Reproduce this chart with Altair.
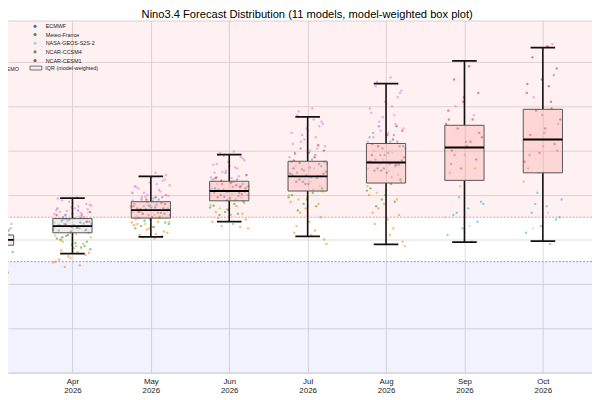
import altair as alt
import pandas as pd

# ---------------- data ----------------
MONTHS = ["Mar", "Apr", "May", "Jun", "Jul", "Aug", "Sep", "Oct"]
YEAR = "2026"

WHISK_LO = [-0.50, -0.32, 0.06, 0.40, 0.07, -0.11, -0.06, -0.04]
Q1 = [-0.13, 0.15, 0.48, 0.87, 1.09, 1.27, 1.33, 1.50]
MEDIAN = [-0.01, 0.30, 0.66, 1.09, 1.42, 1.73, 2.07, 2.25]
Q3 = [0.10, 0.47, 0.85, 1.31, 1.76, 2.16, 2.57, 2.93]
WHISK_HI = [0.48, 0.93, 1.42, 1.91, 2.76, 3.51, 4.02, 4.32]

EL_NINO = 0.5
LA_NINA = -0.5
Y_DOMAIN = [-3.0, 4.93]
X_DOMAIN = [0.178, 7.627]

MODEL_NAMES = ["BOM-ACCESS", "CFSv2", "CMCC-SPS3.5", "DWD-GCFS2.1", "COLA-RSMAS",
               "CMC-GEM5.2-NEMO", "ECMWF", "Meteo-France", "NASA-GEOS-S2S-2",
               "NCAR-CCSM4", "NCAR-CESM1"]
MODEL_CODES = ["o", "p", "r", "u", "c", "y", "b", "g", "l", "k", "n"]
MODEL_COLORS = ["#ff7f0e", "#e377c2", "#d62728", "#9467bd", "#17becf", "#bcbd22",
                "#1f77b4", "#2ca02c", "#aec7e8", "#7f7f7f", "#8c564b"]

MAR_PTS = {
    "o": [-0.62, -0.70, -0.75, -0.82, -0.88, -0.55, -0.66],
    "p": [0.35, 0.42, 0.28, 0.50, 0.22, 0.18, 0.31, 0.45],
    "l": [0.12, 0.05, 0.20, 0.08],
    "g": [-0.20, -0.28, -0.15, -0.32],
    "b": [0.02, -0.05, 0.10, -0.08],
    "c": [0.15, 0.25], "u": [0.30, 0.10], "y": [-0.12, -0.22],
    "k": [0.00, 0.06], "n": [-0.10], "r": [0.20, -0.02],
}
APR_PTS = {
    "p": [0.95, 0.88, 0.80, 0.72, 0.66, 0.60, 0.55, 0.78, 0.70, 0.62, 0.50, 0.85, 0.58, 0.74,
          0.45, 0.68, 0.82, 0.92, 0.57, 0.64, 0.76],
    "o": [-0.15, -0.25, -0.35, -0.42, -0.50, -0.58, -0.62, -0.30, -0.20, -0.45, -0.10,
          -0.38, -0.52, -0.28, -0.05],
    "g": [-0.05, -0.12, 0.02, -0.18, 0.08, -0.22, -0.08, 0.00, -0.15],
    "l": [0.45, 0.38, 0.52, 0.30, 0.60, 0.25, 0.33, 0.48, 0.41],
    "b": [0.35, 0.28, 0.42, 0.22, 0.18, 0.30, 0.38],
    "c": [0.55, 0.40, 0.48, 0.32, 0.36, 0.44, 0.27],
    "u": [0.65, 0.50, 0.40, 0.58, 0.70, 0.54, 0.46],
    "y": [0.05, 0.12, -0.02, 0.20, 0.15, 0.09],
    "k": [0.25, 0.35, 0.15, 0.32, 0.20],
    "n": [0.30, 0.10, 0.22, 0.26, 0.05],
    "r": [0.40, 0.28, 0.55, 0.48, 0.34, 0.62],
}
MAY_PTS = {
    "p": [1.50, 1.42, 1.35, 1.28, 1.20, 1.12, 1.05, 0.98, 0.92, 1.15, 1.32, 1.00, 0.88, 1.25,
          0.95, 1.45, 1.38, 1.18, 1.08, 0.96, 1.22],
    "o": [0.02, 0.10, 0.18, 0.25, 0.32, 0.40, 0.05, 0.15, 0.28, 0.35, 0.08, 0.22, 0.38, 0.12],
    "g": [0.30, 0.38, 0.45, 0.25, 0.50, 0.42, 0.35, 0.28, 0.48],
    "l": [0.70, 0.78, 0.62, 0.85, 0.58, 0.66, 0.74, 0.52],
    "b": [0.60, 0.68, 0.55, 0.72, 0.65, 0.58, 0.76],
    "c": [0.80, 0.90, 0.75, 0.70, 0.86, 0.62],
    "u": [0.95, 0.85, 1.05, 0.78, 0.90, 1.00, 0.72],
    "y": [0.45, 0.52, 0.35, 0.40, 0.55],
    "k": [0.62, 0.70, 0.55, 0.75, 0.60],
    "n": [0.58, 0.66, 0.50, 0.70],
    "r": [0.82, 0.90, 0.74, 0.95, 0.68, 0.80],
}
JUN_PTS = {
    "p": [1.98, 1.90, 1.82, 1.75, 1.68, 1.60, 1.52, 1.45, 1.38, 1.70, 1.85, 1.55, 1.40, 1.62,
          1.95, 1.78, 1.65, 1.50, 1.42, 1.88],
    "o": [0.25, 0.35, 0.48, 0.58, 0.68, 0.40, 0.75, 0.30, 0.45, 0.55, 0.62, 0.28],
    "g": [0.62, 0.72, 0.80, 0.55, 0.85, 0.66, 0.76, 0.58],
    "l": [1.10, 1.18, 1.02, 1.25, 0.95, 1.05, 1.15, 0.90],
    "b": [1.00, 1.08, 0.92, 1.15, 1.05, 0.96],
    "c": [1.20, 1.30, 1.12, 1.25, 1.08, 1.35],
    "u": [1.35, 1.25, 1.45, 1.28, 1.40, 1.20, 1.50],
    "y": [0.78, 0.88, 0.70, 0.82, 0.92],
    "k": [1.05, 0.98, 1.12, 1.00, 1.18],
    "n": [0.95, 1.02, 0.88, 1.10],
    "r": [1.22, 1.32, 1.15, 1.28, 1.38, 1.18],
}
JUL_PTS = {
    "p": [2.95, 2.80, 2.65, 2.50, 2.40, 2.30, 2.20, 2.10, 2.00, 1.92, 2.55, 2.25, 1.85, 2.70,
          2.88, 2.60, 2.45, 2.15, 2.05, 2.35],
    "o": [-0.10, 0.10, 0.30, 0.50, 0.70, 0.85, 0.20, 0.60, 0.00, 0.40, 0.15, 0.80],
    "g": [0.80, 0.95, 1.05, 0.65, 1.15, 0.90, 1.00, 0.75],
    "l": [1.40, 1.55, 1.30, 1.65, 1.20, 1.35, 1.50, 1.60],
    "b": [1.35, 1.48, 1.25, 1.60, 1.42, 1.30],
    "c": [1.70, 1.80, 1.50, 1.65, 1.45, 1.75],
    "u": [1.90, 2.05, 1.75, 1.62, 1.95, 1.70, 1.55],
    "y": [1.00, 1.12, 0.90, 1.08, 0.95],
    "k": [1.45, 1.38, 1.58, 1.52, 1.40],
    "n": [1.30, 1.42, 1.25, 1.48],
    "r": [1.85, 1.72, 2.00, 1.95, 1.78, 2.12],
}
AUG_PTS = {
    "p": [3.65, 3.45, 3.30, 3.10, 2.95, 2.80, 2.65, 2.50, 2.40, 2.30, 3.20, 2.75, 2.20, 3.00,
          3.55, 3.35, 3.05, 2.85, 2.60, 2.45],
    "o": [-0.15, 0.10, 0.35, 0.55, 0.80, 1.00, 0.25, 0.70, -0.05, 0.45, 0.60, 0.90],
    "g": [0.90, 1.10, 1.25, 0.75, 1.35, 1.00, 1.15, 0.85],
    "l": [1.70, 1.85, 1.55, 2.00, 1.45, 1.80, 1.60, 1.95],
    "b": [1.60, 1.78, 1.50, 1.90, 1.68, 1.55],
    "c": [2.05, 2.20, 1.80, 2.10, 1.90, 2.30],
    "u": [2.35, 2.55, 2.10, 1.95, 2.40, 2.20, 2.05],
    "y": [1.20, 1.40, 1.05, 1.30, 1.10],
    "k": [1.75, 1.65, 1.90, 1.85, 1.70],
    "n": [1.55, 1.68, 1.60, 1.75],
    "r": [2.25, 2.10, 2.45, 2.35, 2.15, 2.55],
}
SEP_PTS = {
    "r": [3.90, 3.60, 3.30, 3.10, 2.90, 2.70, 2.50, 2.30, 2.10, 2.00, 1.80, 1.60, 2.60, 2.20],
    "p": [3.00, 2.40, 1.90, 1.50, 2.80],
    "c": [0.95, 0.80, 0.70, 0.55, 0.40, 0.25, 0.10, -0.05, 0.60, 0.85],
    "u": [2.20, 1.70], "y": [1.60, 1.20], "l": [0.50, 0.30],
    "k": [1.90, 2.40], "n": [3.20, 2.70],
}
OCT_PTS = {
    "r": [4.35, 4.10, 3.85, 3.60, 3.30, 3.10, 2.90, 2.70, 2.50, 2.35, 2.15, 1.95, 1.75, 3.45],
    "p": [3.20, 2.60, 2.10, 1.60, 4.40],
    "c": [1.05, 0.90, 0.75, 0.60, 0.45, 0.30, 0.15, -0.10, 0.80, 0.50],
    "u": [2.40, 1.90, 3.70], "y": [1.50, 1.30], "l": [0.60, 0.25],
    "k": [2.00, 2.80], "n": [3.50, 2.95],
}
MONTH_POINTS = [MAR_PTS, APR_PTS, MAY_PTS, JUN_PTS, JUL_PTS, AUG_PTS, SEP_PTS, OCT_PTS]

TITLE = "Nino3.4 Forecast Distribution (11 models, model-weighted box plot)"
IQR_LABEL = "IQR (model-weighted)"
FONT = "Liberation Sans"

# ---------------- tables ----------------
code_to_name = dict(zip(MODEL_CODES, MODEL_NAMES))
rows = []
for mi, pts in enumerate(MONTH_POINTS):
    k = 0
    for code, vals in pts.items():
        for v in vals:
            k += 1
            rows.append({"mi": mi, "model": code_to_name[code], "value": v, "k": k})
points = pd.DataFrame(rows)

boxes = pd.DataFrame({
    "mi": list(range(len(MONTHS))),
    "lo": WHISK_LO, "q1": Q1, "med": MEDIAN, "q3": Q3, "hi": WHISK_HI,
})
boxes["state"] = ["warm" if m > EL_NINO else "neutral" for m in MEDIAN]
boxes["iqr"] = IQR_LABEL

warm_band = pd.DataFrame({"y": [EL_NINO], "y2": [Y_DOMAIN[1]]})
cold_band = pd.DataFrame({"y": [Y_DOMAIN[0]], "y2": [LA_NINA]})
warm_line = pd.DataFrame({"y": [EL_NINO]})
cold_line = pd.DataFrame({"y": [LA_NINA]})
title_df = pd.DataFrame({"t": [TITLE]})

# ---------------- scales / axes ----------------
X_SCALE = alt.Scale(domain=X_DOMAIN, nice=False, zero=False)
Y_SCALE = alt.Scale(domain=Y_DOMAIN, nice=False, zero=False)

month_arr = "[" + ",".join("'%s'" % m for m in MONTHS) + "]"
X_AXIS = alt.Axis(
    values=list(range(1, len(MONTHS))), title=None, grid=True,
    gridColor="#d4d4d4", gridWidth=0.8, ticks=False,
    domain=True, domainColor="#cfcfcf", domainWidth=1,
    labelExpr="[%s[datum.value], '%s']" % (month_arr, YEAR),
    labelFont=FONT, labelFontSize=8, labelColor="#222222",
    labelPadding=4.5, labelLineHeight=9.5, labelOverlap=False, labelFlush=False,
)
Y_AXIS = alt.Axis(
    values=list(range(-3, 5)) + [Y_DOMAIN[1]], title=None, grid=True,
    gridColor="#d4d4d4", gridWidth=0.8, labels=False, ticks=False, domain=False,
)

# ---------------- layers ----------------
warm_band_layer = alt.Chart(warm_band).mark_rect(color="#ff0000", opacity=0.055).encode(
    y=alt.Y("y:Q", scale=Y_SCALE, axis=Y_AXIS), y2="y2:Q")
cold_band_layer = alt.Chart(cold_band).mark_rect(color="#0000ff", opacity=0.05).encode(
    y=alt.Y("y:Q", scale=Y_SCALE, axis=Y_AXIS), y2="y2:Q")
warm_line_layer = alt.Chart(warm_line).mark_rule(
    color="#ff8f8f", strokeDash=[2, 1.5], strokeWidth=1).encode(
    y=alt.Y("y:Q", scale=Y_SCALE, axis=Y_AXIS))
cold_line_layer = alt.Chart(cold_line).mark_rule(
    color="#8f8fff", strokeDash=[2, 1.5], strokeWidth=1).encode(
    y=alt.Y("y:Q", scale=Y_SCALE, axis=Y_AXIS))

pts_layer = alt.Chart(points).transform_calculate(
    xj="datum.mi + ((datum.k * 0.6180339887) % 1 - 0.5) * 0.5"
).mark_circle(size=6, opacity=0.55, clip=True).encode(
    x=alt.X("xj:Q", scale=X_SCALE, axis=X_AXIS),
    y=alt.Y("value:Q", scale=Y_SCALE, axis=Y_AXIS),
    color=alt.Color("model:N", scale=alt.Scale(domain=MODEL_NAMES, range=MODEL_COLORS),
                    legend=alt.Legend(
                        orient="none", legendX=-55.1, legendY=2.7, columns=2, title=None,
                        symbolType="circle", symbolSize=10, symbolOpacity=1,
                        symbolStrokeWidth=0, labelFont=FONT, labelFontSize=5.5,
                        labelColor="#222222", rowPadding=1.8, columnPadding=12.8,
                        labelOffset=8, padding=0, labelLimit=0)),
)

box_base = alt.Chart(boxes).transform_calculate(
    xa="datum.mi - 0.25", xb="datum.mi + 0.25",
    ca="datum.mi - 0.157", cb="datum.mi + 0.157",
)

box_layer = box_base.mark_rect(strokeWidth=1, clip=True).encode(
    x=alt.X("xa:Q", scale=X_SCALE, axis=X_AXIS), x2="xb:Q",
    y=alt.Y("q1:Q", scale=Y_SCALE, axis=Y_AXIS), y2="q3:Q",
    fill=alt.Fill("state:N", scale=alt.Scale(domain=["neutral", "warm"],
                                             range=["#c4c4c4", "#ff9999"]), legend=None),
    fillOpacity=alt.value(0.3),
    stroke=alt.Stroke("iqr:N", scale=alt.Scale(range=["#555555"]),
                      legend=alt.Legend(
                          orient="none", legendX=21.8, legendY=41.7, title=None,
                          symbolType="M-1,-0.33L1,-0.33L1,0.33L-1,0.33Z", symbolSize=144,
                          symbolFillColor="#f0f0f0", symbolStrokeWidth=0.8,
                          labelFont=FONT, labelFontSize=5.5, labelColor="#222222",
                          labelOffset=3, padding=0)),
)

RULE = "#111111"
whisk_lo = box_base.mark_rule(color=RULE, strokeWidth=1.6, clip=True).encode(
    x=alt.X("mi:Q", scale=X_SCALE, axis=X_AXIS),
    y=alt.Y("lo:Q", scale=Y_SCALE, axis=Y_AXIS), y2="q1:Q",
)
whisk_hi = box_base.mark_rule(color=RULE, strokeWidth=1.6, clip=True).encode(
    x=alt.X("mi:Q", scale=X_SCALE, axis=X_AXIS),
    y=alt.Y("q3:Q", scale=Y_SCALE, axis=Y_AXIS), y2="hi:Q",
)
cap_lo = box_base.mark_rule(color=RULE, strokeWidth=1.8, clip=True).encode(
    x=alt.X("ca:Q", scale=X_SCALE, axis=X_AXIS), x2="cb:Q",
    y=alt.Y("lo:Q", scale=Y_SCALE, axis=Y_AXIS),
)
cap_hi = box_base.mark_rule(color=RULE, strokeWidth=1.8, clip=True).encode(
    x=alt.X("ca:Q", scale=X_SCALE, axis=X_AXIS), x2="cb:Q",
    y=alt.Y("hi:Q", scale=Y_SCALE, axis=Y_AXIS),
)
median_layer = box_base.mark_rule(color="#000000", strokeWidth=2, clip=True).encode(
    x=alt.X("xa:Q", scale=X_SCALE, axis=X_AXIS), x2="xb:Q",
    y=alt.Y("med:Q", scale=Y_SCALE, axis=Y_AXIS),
)

# chart title drawn as a text mark just above the plot area
title_layer = alt.Chart(title_df).mark_text(
    font=FONT, fontSize=11.3, color="#000000", align="center", baseline="alphabetic",
    dx=7.3, dy=-3,
).encode(text="t:N", x=alt.value(296), y=alt.value(0))

chart = alt.layer(
    warm_band_layer, cold_band_layer, warm_line_layer, cold_line_layer, pts_layer,
    whisk_lo, whisk_hi, cap_lo, cap_hi, box_layer, median_layer, title_layer,
).properties(
    width=592, height=357,
    autosize=alt.AutoSizeParams(type="none"),
    padding={"left": 0, "top": 10, "right": 0, "bottom": 22},
).configure_view(stroke=None)

chart.save("out.html", embed_options={"renderer": "svg", "actions": False})
